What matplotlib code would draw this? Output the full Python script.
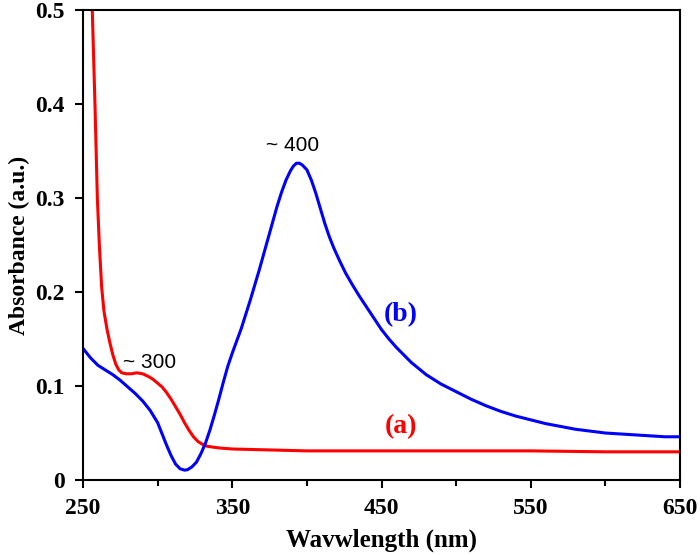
import matplotlib
matplotlib.use("Agg")
import matplotlib.pyplot as plt
from matplotlib.ticker import MultipleLocator

plt.rcParams['font.family'] = ['Liberation Serif', 'DejaVu Serif']

# (a) red spectrum
wl_a = [254, 256.2, 258, 259.6, 261, 262.5, 264, 266, 268, 270, 272, 274, 276,
        279, 282, 286, 290, 294, 297, 300, 303, 306, 309, 312, 315, 318, 321,
        324, 327, 330, 333, 337, 342, 350, 375, 400, 450, 500, 550, 600, 650]
abs_a = [0.58, 0.50, 0.40, 0.30, 0.248, 0.205, 0.180, 0.161, 0.146, 0.133,
         0.123, 0.117, 0.114, 0.113, 0.113, 0.114, 0.113, 0.110, 0.107, 0.103,
         0.099, 0.093, 0.086, 0.078, 0.070, 0.061, 0.053, 0.046, 0.041, 0.038,
         0.036, 0.035, 0.034, 0.033, 0.032, 0.031, 0.031, 0.031, 0.031, 0.030,
         0.030]

# (b) blue spectrum
wl_b = [250, 255, 260, 265, 270, 275, 280, 285, 290, 295, 300, 303, 306, 309,
        312, 315, 318, 320, 323, 326, 329, 332, 335, 338, 341, 344, 347, 350,
        353, 356, 359, 362, 365, 368, 371, 374, 377, 380, 383, 386, 389, 391,
        393, 395, 397, 400, 403, 406, 409, 412, 415, 418, 422, 426, 430, 435,
        440, 445, 450, 455, 460, 465, 470, 480, 490, 500, 510, 520, 530, 540,
        550, 560, 570, 580, 590, 600, 610, 620, 630, 640, 650]
abs_b = [0.140, 0.130, 0.122, 0.117, 0.112, 0.106, 0.099, 0.092, 0.084, 0.074,
         0.061, 0.049, 0.037, 0.026, 0.017, 0.012, 0.0105, 0.011, 0.014, 0.019,
         0.028, 0.039, 0.053, 0.069, 0.086, 0.104, 0.121, 0.135, 0.148, 0.161,
         0.176, 0.191, 0.207, 0.223, 0.240, 0.257, 0.274, 0.291, 0.306, 0.319,
         0.329, 0.334, 0.337, 0.337, 0.335, 0.330, 0.319, 0.305, 0.289, 0.273,
         0.259, 0.247, 0.233, 0.220, 0.209, 0.196, 0.184, 0.172, 0.160, 0.150,
         0.141, 0.133, 0.125, 0.112, 0.102, 0.094, 0.086, 0.079, 0.073, 0.068,
         0.064, 0.060, 0.057, 0.054, 0.052, 0.050, 0.049, 0.048, 0.047, 0.046,
         0.046]

x_ticks = [250, 350, 450, 550, 650]
y_ticks = [0, 0.1, 0.2, 0.3, 0.4, 0.5]
y_labels = ['0', '0.1', '0.2', '0.3', '0.4', '0.5']

fig = plt.figure(figsize=(7, 5.55), dpi=100)
ax = fig.add_axes([0.1186, 0.1351, 0.8528, 0.8469])

ax.plot(wl_a, abs_a, color='#ff0000', lw=2.2, solid_joinstyle='round')
ax.plot(wl_b, abs_b, color='#0000ff', lw=2.2, solid_joinstyle='round')

ax.set_xlim(250, 650)
ax.set_ylim(0, 0.5)
ax.set_xticks(x_ticks)
ax.xaxis.set_minor_locator(MultipleLocator(50))
ax.set_yticks(y_ticks)
ax.set_yticklabels(y_labels)

for s in ax.spines.values():
    s.set_linewidth(1.5)
ax.tick_params(axis='both', which='major', direction='out', width=1.5,
               length=6, labelsize=17, pad=7)
ax.tick_params(axis='x', which='minor', direction='out', width=1.5, length=4)
for lab in ax.get_xticklabels() + ax.get_yticklabels():
    lab.set_fontweight('bold')

ax.set_xlabel('Wavwlength (nm)', fontsize=18, fontweight='bold', labelpad=7)
ax.set_ylabel('Absorbance (a.u.)', fontsize=17, fontweight='bold', labelpad=4)

ax.text(294.9, 0.1245, '~ 300', fontsize=15, family='Liberation Sans',
        ha='center', va='center')
ax.text(390.7, 0.356, '~ 400', fontsize=15, family='Liberation Sans',
        ha='center', va='center')
ax.text(463, 0.1755, '(b)', fontsize=20, fontweight='bold', color='#0000ff',
        ha='center', va='center')
ax.text(463, 0.0564, '(a)', fontsize=20, fontweight='bold', color='#ff0000',
        ha='center', va='center')

fig.savefig('out.png', dpi=100)
